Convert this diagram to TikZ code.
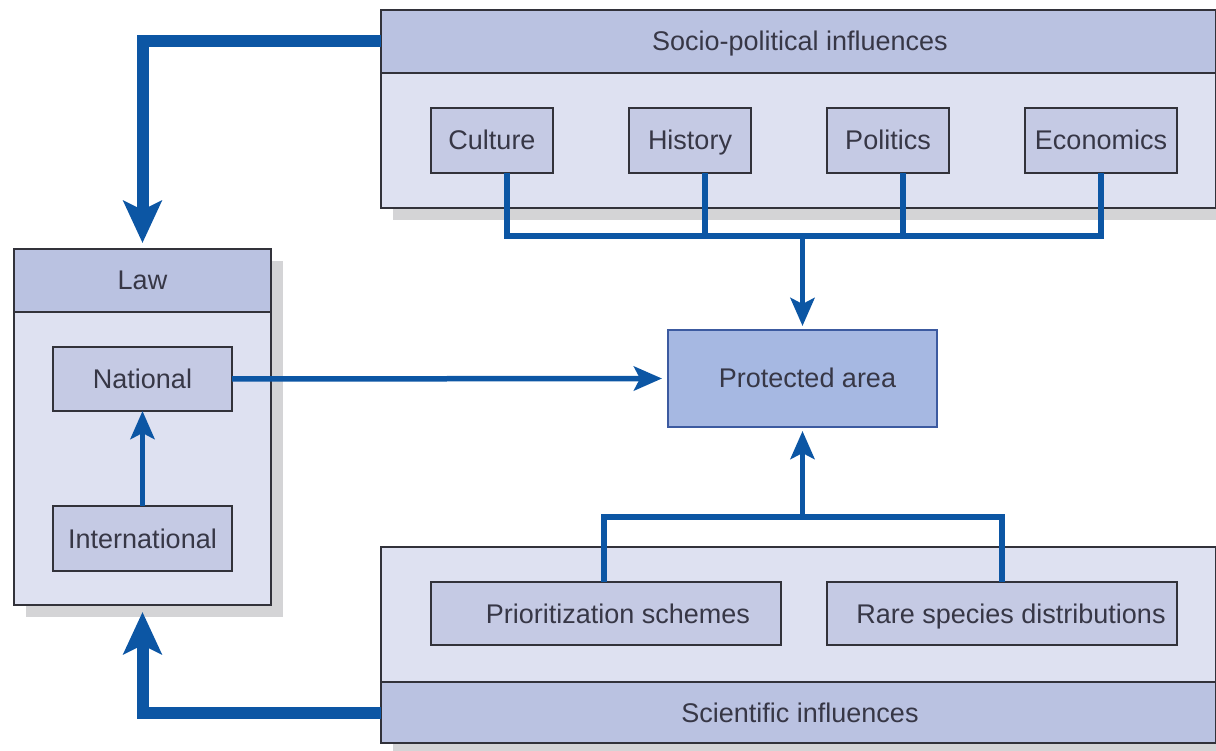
\documentclass[tikz,border=0pt]{standalone}
\usepackage{fontspec}
\setmainfont{Liberation Sans}
\usetikzlibrary{arrows.meta,calc}
\definecolor{headc}{RGB}{186,194,225}
\definecolor{bodyc}{RGB}{222,225,241}
\definecolor{innerc}{RGB}{197,202,228}
\definecolor{pac}{RGB}{166,184,226}
\definecolor{pabord}{RGB}{60,90,160}
\definecolor{arr}{RGB}{12,86,164}
\definecolor{shad}{RGB}{212,212,214}
\definecolor{bord}{RGB}{50,50,58}
\definecolor{txt}{RGB}{55,55,70}
\tikzset{
  lbl/.style={font=\fontsize{27}{29}\selectfont,text=txt,text height=19pt,text depth=0pt,inner sep=0pt},
  box/.style={draw=bord,line width=1.3pt,anchor=north west,inner sep=0pt,outer sep=0pt},
  bodybox/.style={box,fill=bodyc},
  headbox/.style={box,fill=headc},
  innerbox/.style={box,fill=innerc},
  bigarrow/.style={draw=arr,line width=12pt,line join=miter,-{Stealth[length=42pt,width=38pt,inset=9pt]}},
  smallarrow/.style={draw=arr,line width=5.5pt,line join=miter,-{Stealth[length=28pt,width=24pt,inset=6pt]}},
  smallline/.style={draw=arr,line width=5.5pt,line join=miter},
}
\begin{document}
\begin{tikzpicture}[x=1pt,y=-1pt]
\useasboundingbox (0,0) rectangle (1216,751);
% shadows
\fill[shad] (393,22) rectangle (1216,220);
\fill[shad] (26,261) rectangle (283,617);
\fill[shad] (393,559) rectangle (1216,751);
% socio-political
\node[bodybox,minimum width=835pt,minimum height=198pt] (socio) at (381,10) {};
\node[headbox,minimum width=835pt,minimum height=63pt] (sociohead) at (381,10) {};
\node[lbl] (sociolbl) at (800,41.5) {Socio-political influences};
\node[innerbox,minimum width=122pt,minimum height=65pt] (culture) at (431,108) {};
\node[lbl] at (culture.center) {Culture};
\node[innerbox,minimum width=122pt,minimum height=65pt] (history) at (629,108) {};
\node[lbl] at (history.center) {History};
\node[innerbox,minimum width=122pt,minimum height=65pt] (politics) at (827,108) {};
\node[lbl] at (politics.center) {Politics};
\node[innerbox,minimum width=152pt,minimum height=65pt] (economics) at (1025,108) {};
\node[lbl] at (economics.center) {Economics};
% law
\node[bodybox,minimum width=257pt,minimum height=356pt] (law) at (14,249) {};
\node[headbox,minimum width=257pt,minimum height=63pt] (lawhead) at (14,249) {};
\node[lbl] at (lawhead.center) {Law};
\node[innerbox,minimum width=179pt,minimum height=64pt] (national) at (53,347) {};
\node[lbl] at (national.center) {National};
\node[innerbox,minimum width=179pt,minimum height=65pt] (international) at (53,506) {};
\node[lbl] at (international.center) {International};
% protected area
\node[box,fill=pac,draw=pabord,minimum width=269pt,minimum height=97pt] (pa) at (668,330) {};
\node[lbl] at ([xshift=5pt]pa.center) {Protected area};
% scientific
\node[bodybox,minimum width=835pt,minimum height=196pt] (sci) at (381,547) {};
\node[headbox,minimum width=835pt,minimum height=61pt] (scihead) at (381,682) {};
\node[lbl] at (800,713) {Scientific influences};
\node[innerbox,minimum width=350pt,minimum height=63pt] (prior) at (431,582) {};
\node[lbl] at ([xshift=12pt]prior.center) {Prioritization schemes};
\node[innerbox,minimum width=350pt,minimum height=63pt] (rare) at (827,582) {};
\node[lbl] at ([xshift=9pt]rare.center) {Rare species distributions};
% connectors
\coordinate (jtop) at (pa.north |- 0,236);
\coordinate (jbot) at (pa.south |- 0,517);
\draw[smallline] ([xshift=15pt]culture.south) -- ([xshift=15pt]culture.south |- jtop) -- (economics.south |- jtop) -- (economics.south);
\draw[smallline] ([xshift=15pt]history.south) -- ([xshift=15pt]history.south |- jtop);
\draw[smallline] ([xshift=15pt]politics.south) -- ([xshift=15pt]politics.south |- jtop);
\draw[smallarrow] (jtop) -- ([yshift=4pt]pa.north);
\draw[smallline] ([xshift=-2pt]prior.north) -- ([xshift=-2pt]prior.north |- jbot) -- (rare.north |- jbot) -- (rare.north);
\draw[smallarrow] (jbot) -- ([yshift=-4pt]pa.south);
\draw[smallarrow] (national.east) -- ([xshift=-6pt]pa.west);
\draw[smallarrow] (international.north) -- (national.south);
\draw[bigarrow] (sociohead.west) -| ([yshift=6pt]law.north);
\draw[bigarrow] (scihead.west) -| ([yshift=-7pt]law.south);
\end{tikzpicture}
\end{document}
